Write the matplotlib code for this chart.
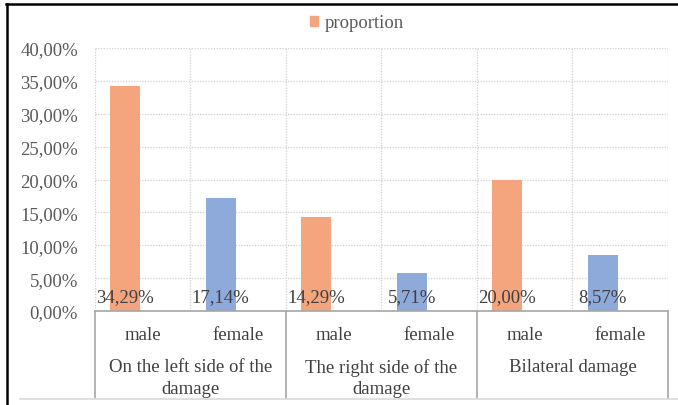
import numpy as np
import matplotlib
matplotlib.use('Agg')
import matplotlib.pyplot as plt
from matplotlib.lines import Line2D
from matplotlib.patches import Patch
from matplotlib.ticker import FuncFormatter

# ── Data ──────────────────────────────────────────────────────────────────────
GROUPS = ["On the left side of the\ndamage", "The right side of the\ndamage", "Bilateral damage"]
SEXES = ["male", "female"]
VALUES = [34.29, 17.14, 14.29, 5.71, 20.00, 8.57]
SERIES_NAME = "proportion"

# ── Style ─────────────────────────────────────────────────────────────────────
W, H, DPI = 678, 406, 100
ORANGE = "#F4A57E"
BLUE = "#8EAADB"
TICK_C = "#595959"
TEXT_C = "#404040"
GRID_C = "#d0d0d0"
BOX_C = "#a6a6a6"
FS = 13.5

plt.rcParams['font.family'] = ['Liberation Serif', 'DejaVu Serif']

fig = plt.figure(figsize=(W / DPI, H / DPI), dpi=DPI)

# plot area in pixels (left, top, right, bottom)
L, T, R, B = 94.7, 49, 668, 312
ax = fig.add_axes([L / W, 1 - B / H, (R - L) / W, (B - T) / H])
ax_h = B - T

n = len(VALUES)
x = np.arange(n)
colors = [ORANGE if i % 2 == 0 else BLUE for i in range(n)]
bars = ax.bar(x + 0.16, VALUES, width=0.315, align='edge', color=colors, zorder=3)

ax.set_xlim(0, n)
ax.set_ylim(0, 40)
ax.set_yticks(np.arange(0, 41, 5))
ax.yaxis.set_major_formatter(FuncFormatter(lambda v, _: f"{v:.2f}%".replace(".", ",")))
ax.tick_params(axis='y', length=0, pad=12, labelsize=FS, labelcolor=TICK_C)
ax.set_xticks([])
for s in ax.spines.values():
    s.set_visible(False)

# dotted grid: horizontal at each tick, vertical at every slot edge
for v in np.arange(5, 41, 5):
    ax.axhline(v, color=GRID_C, lw=0.9, ls=(0, (1, 1.2)), zorder=1)
for i in range(0, n + 1):
    ax.axvline(i, color=GRID_C, lw=0.9, ls=(0, (1, 1.2)), zorder=1)

# value labels sitting at the base of each bar
for rect, v in zip(bars, VALUES):
    ax.text(rect.get_x() + rect.get_width() / 2, 0.9, f"{v:.2f}%".replace(".", ","),
            ha='center', va='bottom', fontsize=FS, color=TEXT_C, zorder=4)

# two-level category axis drawn as a box under the plot
xt = ax.get_xaxis_transform()
box_bottom = -(399 - B) / ax_h
ax.plot([0, n], [0, 0], transform=xt, color=BOX_C, lw=1.2, clip_on=False, zorder=5)
for gx in range(0, n + 1, 2):
    ax.plot([gx, gx], [0, box_bottom], transform=xt, color=BOX_C, lw=1.2, clip_on=False)

for i in range(n):
    ax.text(i + 0.5, -(336 - B) / ax_h, SEXES[i % 2], transform=xt, ha='center', va='center',
            fontsize=FS, color=TEXT_C)
for g, name in enumerate(GROUPS):
    ax.text(2 * g + 1, -(359 - B) / ax_h, name, transform=xt, ha='center', va='top',
            fontsize=FS, color=TEXT_C, linespacing=1.35)

# outer frame pieces
fig.add_artist(Line2D([6 / W, 1], [1 - 4.5 / H] * 2, color='black', lw=1.8))
fig.add_artist(Line2D([6.5 / W] * 2, [0, 1 - 4.5 / H], color='black', lw=1.8))
fig.add_artist(Line2D([20 / W, 1], [1 - 399.5 / H] * 2, color='#d9d9d9', lw=1.2))

fig.legend(handles=[Patch(color=ORANGE, label=SERIES_NAME)], loc='center',
           bbox_to_anchor=(357 / W, 1 - 24 / H), frameon=False, fontsize=FS,
           handlelength=0.45, handleheight=0.45, handletextpad=0.35,
           labelcolor=TICK_C)

fig.savefig("out.png", dpi=DPI)
